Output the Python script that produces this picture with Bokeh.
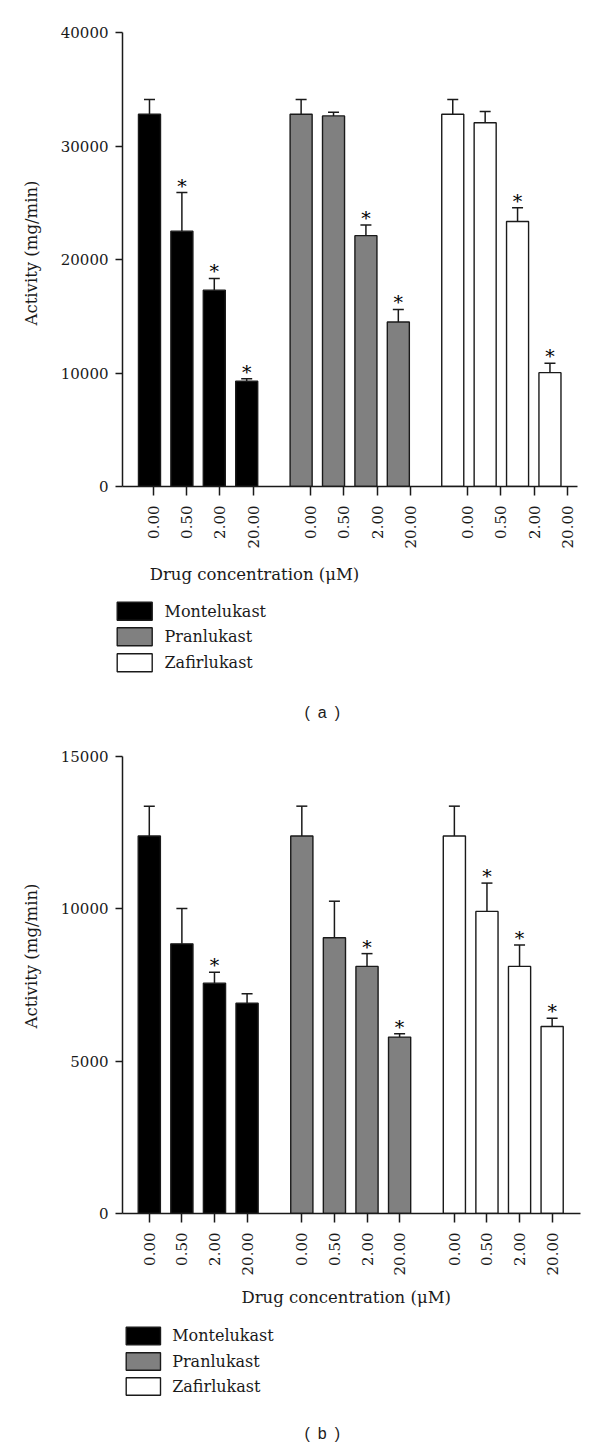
import math
from bokeh.plotting import figure
from bokeh.models import (ColumnDataSource, Range1d, FixedTicker, NumeralTickFormatter,
                          CustomJSTickFormatter, Whisker, TeeHead, Title)
from bokeh.layouts import column
from bokeh.core.properties import value
from bokeh.embed import file_html
from bokeh.resources import INLINE

# ---------------- data ----------------
drugs = ["Montelukast", "Pranlukast", "Zafirlukast"]
concentrations = ["0.00", "0.50", "2.00", "20.00"]
drug_colors = ["#000000", "#808080", "#ffffff"]

# panel (a)
a_montelukast = [32800, 22500, 17300, 9270]
a_montelukast_err = [1300, 3400, 1030, 230]
a_montelukast_sig = [False, True, True, True]
a_pranlukast = [32800, 32650, 22100, 14500]
a_pranlukast_err = [1300, 330, 950, 1100]
a_pranlukast_sig = [False, False, True, True]
a_zafirlukast = [32800, 32050, 23350, 10030]
a_zafirlukast_err = [1300, 1000, 1220, 830]
a_zafirlukast_sig = [False, False, True, True]
a_yticks = [0, 10000, 20000, 30000, 40000]

# panel (b)
b_montelukast = [12390, 8850, 7560, 6900]
b_montelukast_err = [980, 1160, 360, 310]
b_montelukast_sig = [False, False, True, False]
b_pranlukast = [12390, 9050, 8110, 5790]
b_pranlukast_err = [980, 1200, 420, 110]
b_pranlukast_sig = [False, False, True, True]
b_zafirlukast = [12390, 9915, 8110, 6140]
b_zafirlukast_err = [980, 930, 700, 270]
b_zafirlukast_sig = [False, True, True, True]
b_yticks = [0, 5000, 10000, 15000]

y_label = "Activity (mg/min)"
x_label = "Drug concentration (\u03bcM)"

# ---------------- styling ----------------
SERIF = "DejaVu Serif"
SANS = "Liberation Sans"
INK = "#1a1a1a"
GROUP_STEP = 4.68
BAR_W = 0.68
W = 600


def make_panel(vals, errs, sigs, yticks, height, mb_top, mb_bottom, mb_right,
               xr, tick_shift, tick_group, tick_step, ylab_offset):
    p = figure(width=W, height=height, output_backend="svg", toolbar_location=None,
               x_range=xr, y_range=Range1d(0, yticks[-1]),
               min_border_left=122, min_border_right=mb_right,
               min_border_top=mb_top, min_border_bottom=mb_bottom)
    p.frame_align = False
    p.outline_line_color = None
    p.grid.visible = False
    p.background_fill_color = "white"
    p.border_fill_color = "white"

    xs, tops, uppers, fills = [], [], [], []
    sx, sy = [], []
    tick_pos, tick_lab = [], []
    for g in range(3):
        for i in range(4):
            x = g * GROUP_STEP + i
            xs.append(x)
            tops.append(vals[g][i])
            uppers.append(vals[g][i] + errs[g][i])
            fills.append(drug_colors[g])
            if sigs[g][i]:
                sx.append(x)
                sy.append(vals[g][i] + errs[g][i])
            tick_pos.append(round(tick_shift + g * tick_group + i * tick_step, 4))
            tick_lab.append(concentrations[i])

    src = ColumnDataSource(dict(x=xs, top=tops, upper=uppers, fill=fills))
    p.vbar(x="x", top="top", bottom=0, width=BAR_W, fill_color="fill",
           line_color=INK, line_width=1.4, source=src)
    wh = Whisker(source=src, base="x", lower="top", upper="upper",
                 line_color=INK, line_width=1.5,
                 upper_head=TeeHead(size=11, line_color=INK, line_width=1.5),
                 lower_head=None)
    p.add_layout(wh)

    star_src = ColumnDataSource(dict(x=sx, y=sy, t=["*"] * len(sx)))
    p.text(x="x", y="y", text="t", source=star_src, text_font=value(SERIF),
           text_font_size="19px", text_align="center", text_baseline="alphabetic",
           y_offset=-7, text_color="#000000")

    p.yaxis.ticker = FixedTicker(ticks=yticks)
    p.yaxis.formatter = NumeralTickFormatter(format="0")
    p.xaxis.ticker = FixedTicker(ticks=tick_pos)
    p.xaxis.formatter = CustomJSTickFormatter(
        args=dict(labels=tick_lab, positions=tick_pos),
        code="""
        let k = 0;
        for (let j = 0; j < positions.length; j++) {
            if (Math.abs(positions[j] - tick) < Math.abs(positions[k] - tick)) k = j;
        }
        return labels[k];
        """)
    p.xaxis.major_label_orientation = math.pi / 2

    for ax in (p.xaxis, p.yaxis):
        ax.axis_line_color = INK
        ax.axis_line_width = 1.5
        ax.major_tick_line_color = INK
        ax.major_tick_line_width = 1.5
        ax.minor_tick_line_color = None
        ax.major_tick_in = 0
        ax.major_label_text_font = SERIF
        ax.major_label_text_font_size = "15px"
        ax.major_label_text_color = INK
    p.xaxis.major_tick_out = 9
    p.xaxis.major_label_standoff = 10
    p.yaxis.major_tick_out = 7
    p.yaxis.major_label_standoff = 7

    p.add_layout(Title(text=y_label, align="left", offset=ylab_offset,
                       text_font=SERIF, text_font_size="16.5px",
                       text_font_style="normal", text_color=INK, standoff=34), "left")
    return p


def make_caption(y0, y1, box_left, box_w, box_tops, box_h, text_x,
                 xlab_x, xlab_y, cap_x, cap_y, letter):
    p = figure(width=W, height=y1 - y0, output_backend="svg", toolbar_location=None,
               x_range=Range1d(0, W), y_range=Range1d(y1, y0),
               x_axis_type=None, y_axis_type=None, min_border=0)
    p.frame_align = False
    p.outline_line_color = None
    p.grid.visible = False
    p.border_fill_color = "white"
    p.background_fill_color = "white"

    src = ColumnDataSource(dict(
        left=[box_left] * 3, right=[box_left + box_w] * 3,
        top=box_tops, bottom=[t + box_h for t in box_tops],
        fill=drug_colors, name=drugs,
        tx=[text_x] * 3, ty=[t + box_h / 2 for t in box_tops]))
    p.quad(left="left", right="right", top="top", bottom="bottom",
           fill_color="fill", line_color=INK, line_width=1.4, source=src)
    p.text(x="tx", y="ty", text="name", source=src, text_font=value(SERIF),
           text_font_size="16px", text_baseline="middle", text_align="left",
           text_color=INK)
    p.text(x=[xlab_x], y=[xlab_y], text=[x_label], text_font=value(SERIF),
           text_font_size="16.5px", text_baseline="middle", text_align="center",
           text_color=INK)
    p.text(x=[cap_x], y=[cap_y], text=["(\u2002%s\u2002)" % letter], text_font=value(SANS),
           text_font_size="16px", text_baseline="middle", text_align="center",
           text_color=INK)
    return p


pa = make_panel([a_montelukast, a_pranlukast, a_zafirlukast],
                [a_montelukast_err, a_pranlukast_err, a_zafirlukast_err],
                [a_montelukast_sig, a_pranlukast_sig, a_zafirlukast_sig],
                a_yticks, height=560, mb_top=32, mb_bottom=74, mb_right=23,
                xr=Range1d(-0.833, 13.21), tick_shift=0.114, tick_group=4.85,
                tick_step=1.03, ylab_offset=161)
ca = make_caption(560, 740, 116.7, 35, [601.7, 627.3, 653.3], 18, 164,
                  254, 573.5, 321.7, 711.7, "a")
pb = make_panel([b_montelukast, b_pranlukast, b_zafirlukast],
                [b_montelukast_err, b_pranlukast_err, b_zafirlukast_err],
                [b_montelukast_sig, b_pranlukast_sig, b_zafirlukast_sig],
                b_yticks, height=545, mb_top=16, mb_bottom=72, mb_right=20,
                xr=Range1d(-0.822, 13.23), tick_shift=0.0, tick_group=GROUP_STEP,
                tick_step=1.0, ylab_offset=185)
cb = make_caption(1285, 1449, 125.7, 34.3, [1326.7, 1352.3, 1377.3], 17.5, 171.7,
                  345.7, 1297, 321.7, 1433, "b")

layout = column(pa, ca, pb, cb, spacing=0)
open("out.html", "w").write(file_html(layout, INLINE))
